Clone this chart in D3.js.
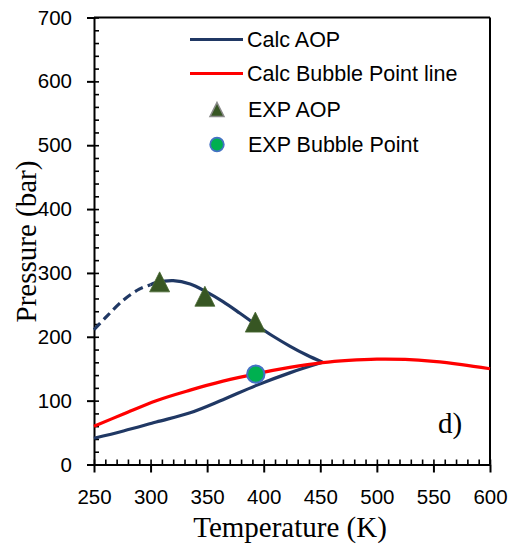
<!DOCTYPE html>
<html>
<head>
<meta charset="utf-8">
<script src="https://cdn.jsdelivr.net/npm/d3@7"></script>
<style>
  html, body { margin: 0; padding: 0; background: #ffffff; }
  svg { display: block; }
</style>
</head>
<body>
<svg id="chart" width="512" height="553"></svg>
<script>
// ---- data ----
const aopDashedT = [250, 261, 276, 290, 300];
const aopDashedP = [211, 231.5, 257.5, 274.5, 281.5];

const aopUpperT = [300, 305, 320, 335, 349, 364, 379, 393.5, 408, 423, 438, 452];
const aopUpperP = [281.5, 284.8, 288, 282.8, 270.7, 255, 236.8, 218.5, 201.2, 185.5, 171.4, 160];

const aopLowerT = [250, 276, 305, 335, 364, 393, 423, 452];
const aopLowerP = [41, 52.5, 66.5, 81, 101.5, 123.5, 143.5, 160];

const bubbleT = [250, 276, 305, 335, 364, 393, 423, 452, 475, 500, 525, 550, 575, 600];
const bubbleP = [60, 79, 100, 116.5, 130.5, 142, 152, 159.5, 163, 165, 164.5, 161.5, 156.5, 150];

const expAopT = [308, 348, 392.6];
const expAopP = [286, 263.5, 223];

const expBubbleT = [393];
const expBubbleP = [141.5];

const xTicks = [250, 300, 350, 400, 450, 500, 550, 600];
const yTicks = [0, 100, 200, 300, 400, 500, 600, 700];

const legendLabels = ["Calc AOP", "Calc Bubble Point line", "EXP AOP", "EXP Bubble Point"];
const xTitle = "Temperature (K)";
const yTitle = "Pressure (bar)";
const panelLabel = "d)";

// ---- drawing ----
const svg = d3.select("#chart");
const W = 512, H = 553;
svg.append("rect").attr("width", W).attr("height", H).attr("fill", "#ffffff");

const x = d3.scaleLinear().domain([250, 600]).range([94, 490]);
const y = d3.scaleLinear().domain([0, 700]).range([464.5, 17.5]);

const navy = "#203864";
const red = "#ff0000";
const green = "#375623";

const zip = (a, b) => a.map((v, i) => [v, b[i]]);
const line = d3.line().x(d => x(d[0])).y(d => y(d[1])).curve(d3.curveCatmullRom.alpha(0.5));

// frame (top and right)
svg.append("line").attr("x1", x(250)).attr("x2", x(600)).attr("y1", y(700)).attr("y2", y(700))
  .attr("stroke", "#000").attr("stroke-width", 2);
svg.append("line").attr("x1", x(600)).attr("x2", x(600)).attr("y1", y(700)).attr("y2", y(0))
  .attr("stroke", "#000").attr("stroke-width", 2);

// minor ticks (inside)
const yMinor = d3.range(0, 701, 20);
const xMinor = d3.range(250, 601, 10);
svg.append("g").attr("transform", `translate(${x(250)},0)`)
  .call(d3.axisRight(y).tickValues(yMinor).tickSize(5).tickFormat(""))
  .call(g => g.select(".domain").remove())
  .selectAll("line").attr("stroke-width", 1.6);
svg.append("g").attr("transform", `translate(0,${y(0)})`)
  .call(d3.axisTop(x).tickValues(xMinor).tickSize(5).tickFormat(""))
  .call(g => g.select(".domain").remove())
  .selectAll("line").attr("stroke-width", 1.6);

// major axes
const yAxis = svg.append("g").attr("transform", `translate(${x(250)},0)`)
  .call(d3.axisLeft(y).tickValues(yTicks).tickSizeInner(7).tickSizeOuter(0).tickPadding(15));
const xAxis = svg.append("g").attr("transform", `translate(0,${y(0)})`)
  .call(d3.axisBottom(x).tickValues(xTicks).tickSizeInner(8).tickSizeOuter(0).tickPadding(17));
[yAxis, xAxis].forEach(g => {
  g.select(".domain").attr("stroke-width", 2);
  g.selectAll(".tick line").attr("stroke-width", 2);
  g.selectAll("text").attr("font-family", "'Liberation Sans', Arial, sans-serif")
    .attr("font-size", 20.5).attr("fill", "#000");
});

// curves
svg.append("path").datum(zip(aopDashedT, aopDashedP)).attr("d", line)
  .attr("fill", "none").attr("stroke", navy).attr("stroke-width", 3.2)
  .attr("stroke-dasharray", "9,5");
svg.append("path").datum(zip(aopUpperT, aopUpperP)).attr("d", line)
  .attr("fill", "none").attr("stroke", navy).attr("stroke-width", 3.2);
svg.append("path").datum(zip(aopLowerT, aopLowerP)).attr("d", line)
  .attr("fill", "none").attr("stroke", navy).attr("stroke-width", 3.2);
svg.append("path").datum(zip(bubbleT, bubbleP)).attr("d", line)
  .attr("fill", "none").attr("stroke", red).attr("stroke-width", 3.2);

// markers
const tri = (cx, cy, w, h) => `M${cx},${cy - h / 2}L${cx + w / 2},${cy + h / 2}L${cx - w / 2},${cy + h / 2}Z`;
svg.append("g").selectAll("path").data(zip(expAopT, expAopP)).join("path")
  .attr("d", d => tri(x(d[0]), y(d[1]), 20, 20))
  .attr("fill", green).attr("stroke", "#4a6a33").attr("stroke-width", 0.8);
svg.append("g").selectAll("circle").data(zip(expBubbleT, expBubbleP)).join("circle")
  .attr("cx", d => x(d[0])).attr("cy", d => y(d[1])).attr("r", 8.7)
  .attr("fill", "#00b050").attr("stroke", "#4472c4").attr("stroke-width", 2);

// legend
const lg = svg.append("g").attr("font-family", "'Liberation Sans', Arial, sans-serif")
  .attr("font-size", 21.5).attr("fill", "#000");
const rowY = [39.5, 73.5, 109.5, 144.5];
lg.append("line").attr("x1", 190).attr("x2", 243).attr("y1", rowY[0]).attr("y2", rowY[0])
  .attr("stroke", navy).attr("stroke-width", 3.2);
lg.append("line").attr("x1", 190).attr("x2", 243).attr("y1", rowY[1]).attr("y2", rowY[1])
  .attr("stroke", red).attr("stroke-width", 3.2);
lg.append("path").attr("d", tri(217, rowY[2], 14, 14))
  .attr("fill", green).attr("stroke", "#8a8a8a").attr("stroke-width", 1.5);
lg.append("circle").attr("cx", 217).attr("cy", rowY[3]).attr("r", 6.8)
  .attr("fill", "#00b050").attr("stroke", "#4472c4").attr("stroke-width", 1.8);
lg.selectAll("text").data(legendLabels).join("text")
  .attr("x", (d, i) => i < 2 ? 247 : 248)
  .attr("y", (d, i) => rowY[i] + 7.5)
  .text(d => d);

// titles
svg.append("text").attr("x", 290).attr("y", 537).attr("text-anchor", "middle")
  .attr("font-family", "'Liberation Serif', 'Times New Roman', serif").attr("font-size", 29)
  .text(xTitle);
svg.append("text").attr("transform", "translate(36,241.5) rotate(-90)").attr("text-anchor", "middle")
  .attr("font-family", "'Liberation Serif', 'Times New Roman', serif").attr("font-size", 29)
  .text(yTitle);
svg.append("text").attr("x", 438).attr("y", 433)
  .attr("font-family", "'Liberation Serif', 'Times New Roman', serif").attr("font-size", 29)
  .text(panelLabel);
</script>
</body>
</html>
